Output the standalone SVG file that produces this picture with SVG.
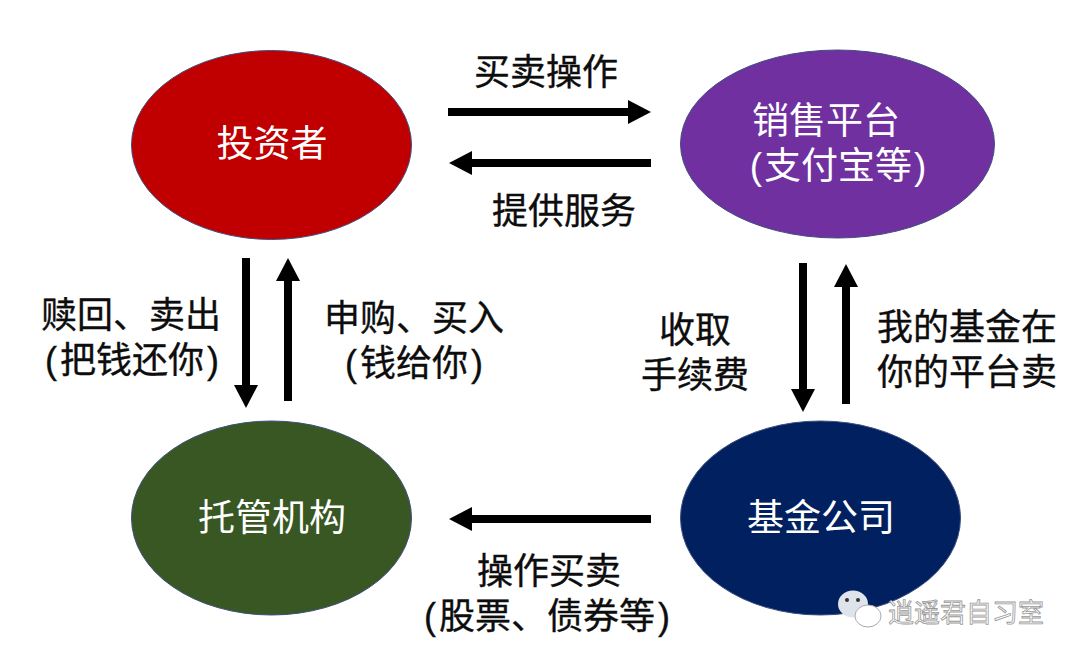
<svg xmlns="http://www.w3.org/2000/svg" width="1080" height="659" viewBox="0 0 1080 659">
<style>
text{font-family:"Liberation Sans","Noto Sans CJK SC",sans-serif;text-anchor:middle}
.n{font-size:37px;fill:#fff}
.l{font-size:36px;fill:#0d0d0d;stroke:#0d0d0d;stroke-width:.35}
.e{stroke:#3f4f7f;stroke-width:1}
.c{stroke:#000;stroke-width:8;fill:none;marker-end:url(#a)}
</style>
<defs><marker id="a" markerUnits="userSpaceOnUse" markerWidth="24" markerHeight="24" refX="1" refY="12" orient="auto"><path d="M0,0L23,12L0,24Z" fill="#000"/></marker></defs>
<rect width="1080" height="659" fill="#fff"/>
<g id="connectors">
<path class="c" d="M448,112H629"/>
<path class="c" d="M651,163H471"/>
<path class="c" d="M246,258V386"/>
<path class="c" d="M288,401V280"/>
<path class="c" d="M803,263V390"/>
<path class="c" d="M846,404V286"/>
<path class="c" d="M651,519H471"/>
</g>
<g id="investor"><ellipse class="e" cx="271.500" cy="145" rx="140" ry="94.500" fill="#c00000"/><text class="n" x="272" y="157">投资者</text></g>
<g id="platform"><ellipse class="e" cx="837.500" cy="144" rx="157" ry="94" fill="#7030a0"/><text class="n" x="826" y="134">销售平台</text><text class="n" x="838" y="179"><tspan>(</tspan><tspan dx="2">支付宝等</tspan><tspan dx="2">)</tspan></text></g>
<g id="custodian"><ellipse class="e" cx="271.500" cy="518" rx="140" ry="97" fill="#385723"/><text class="n" x="272" y="531">托管机构</text></g>
<g id="fund"><ellipse class="e" cx="820.500" cy="518" rx="140" ry="97" fill="#002060"/><text class="n" x="821" y="531">基金公司</text></g>
<g id="labels">
<text class="l" x="546" y="85">买卖操作</text>
<text class="l" x="564" y="224">提供服务</text>
<text class="l" x="131" y="328">赎回、卖出</text>
<text class="l" x="132" y="373"><tspan>(</tspan><tspan dx="3">把钱还你</tspan><tspan dx="3">)</tspan></text>
<text class="l" x="414" y="331">申购、买入</text>
<text class="l" x="414" y="376"><tspan>(</tspan><tspan dx="3">钱给你</tspan><tspan dx="3">)</tspan></text>
<text class="l" x="695" y="343">收取</text>
<text class="l" x="695" y="388">手续费</text>
<text class="l" x="967" y="340">我的基金在</text>
<text class="l" x="967" y="385">你的平台卖</text>
<text class="l" x="549" y="584">操作买卖</text>
<text class="l" x="547" y="629"><tspan>(</tspan><tspan dx="3">股票、债券等</tspan><tspan dx="3">)</tspan></text>
</g>
<g id="watermark">
<ellipse cx="853" cy="604" rx="15" ry="13.500" fill="#dfe3ec"/>
<circle cx="847" cy="600" r="2" fill="#333"/><circle cx="858" cy="600" r="2" fill="#333"/>
<ellipse cx="868" cy="616" rx="13" ry="11" fill="#fff" stroke="#aaa" stroke-width="1"/>
<text x="966" y="622" style="font-size:26px;fill:#fff;stroke:#999;stroke-width:.8">逍遥君自习室</text>
</g>
</svg>
